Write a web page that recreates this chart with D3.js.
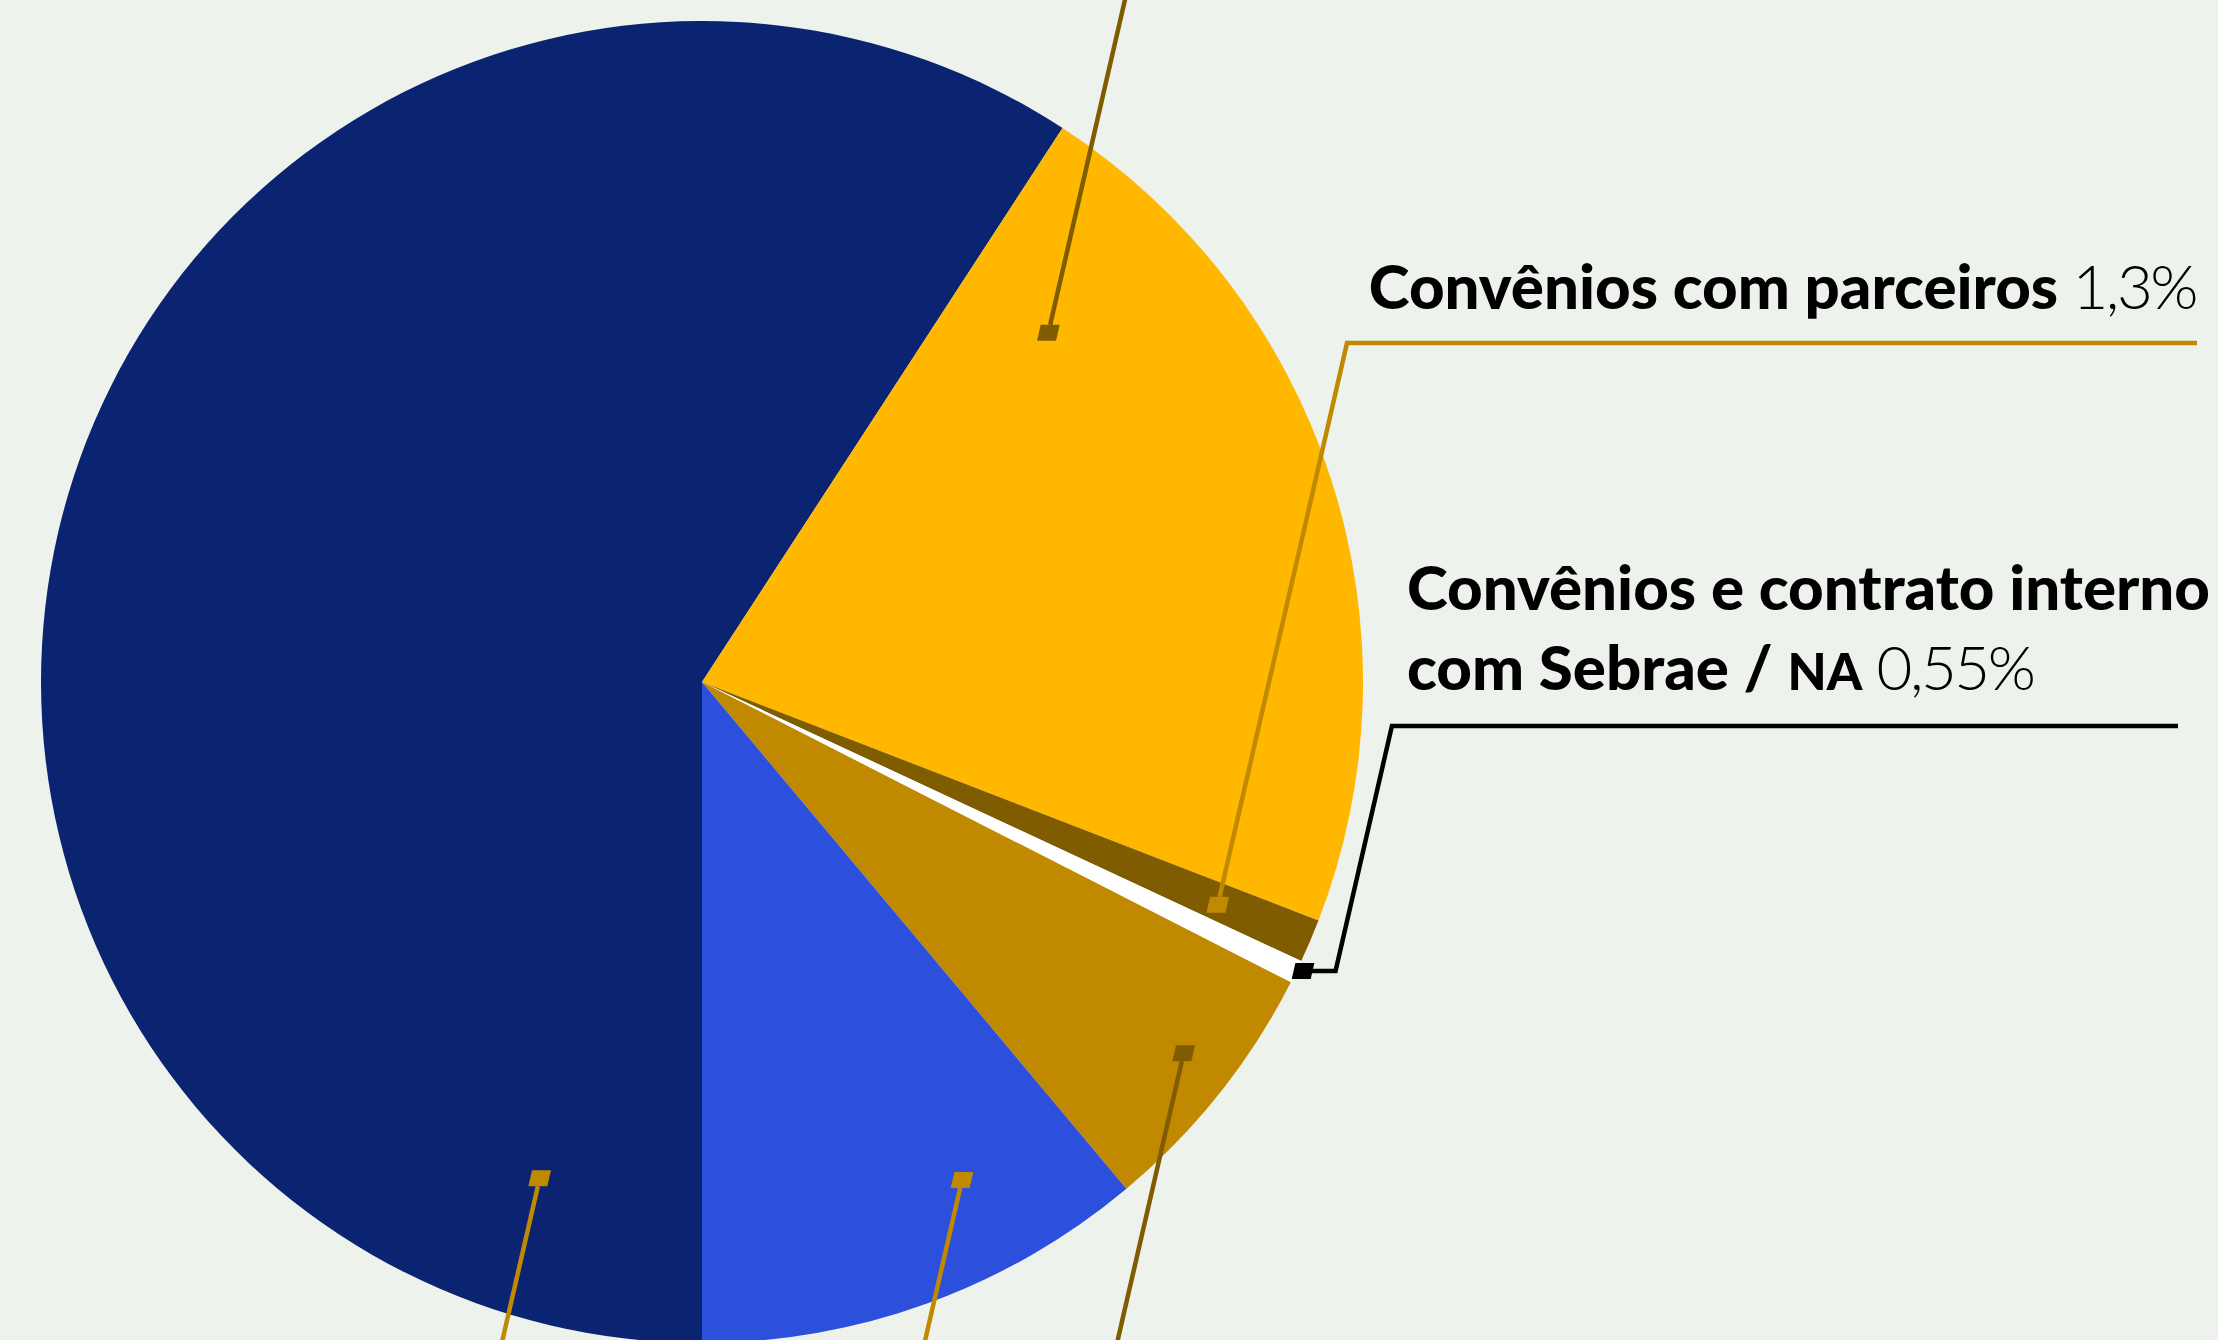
<!DOCTYPE html>
<html lang="pt-BR">
<head>
<meta charset="utf-8">
<script src="https://cdn.jsdelivr.net/npm/d3@7"></script>
<style>
  html, body { margin: 0; padding: 0; background: #eef2ec; }
  svg { display: block; }
  .label { font-family: Lato, "Open Sans", sans-serif; fill: #000; white-space: pre; }
  .label .strong { font-weight: 900; }
  .label .light { font-weight: 300; letter-spacing: -0.04em; }
</style>
</head>
<body>
<div id="chart"></div>
<script>
// fatias, na ordem em que aparecem (sentido horário a partir das 6 horas)
const segmentKeys = ['principal', 'segunda', 'parceiros', 'sebrae', 'terceira', 'quarta'];
const segmentValues = [59.2, 21.7, 1.06, 0.57, 6.4, 11.1];
const segmentColors = ['#0b2471', '#ffb700', '#7f5c00', '#ffffff', '#c08900', '#2c50dc'];

// rótulos visíveis
const parceirosLabel = ['Convênios com parceiros', '1,3%'];
const sebraeLabel = ['Convênios e contrato interno', 'com Sebrae / ', 'NA', '0,55%'];

const width = 2218;
const height = 1340;
const cx = 702;
const cy = 682;
const radius = 661;
const slope = 0.23;          // inclinação das linhas de chamada (dx / dy)
const markW = 19, markH = 16;

const gold = '#c08900';
const brown = '#7f5c00';

// chamadas: posição relativa dentro da fatia (t = fração do ângulo, rf = fração do raio)
const leaders = [
    { key: 'principal', t: 0.085, rf: 0.79, color: gold, dir: 'down' },
    { key: 'segunda', t: 0.15, rf: 0.744, color: brown, dir: 'up' },
    { key: 'parceiros', t: 0.58, rf: 0.85, color: gold, dir: 'label', lineY: 343, lineEnd: 2197 },
    { key: 'sebrae', t: 0.35, rf: 1.009, color: '#000', dir: 'elbow', lineY: 726, lineEnd: 2178 },
    { key: 'terceira', t: 0.46, rf: 0.92, color: brown, dir: 'down' },
    { key: 'quarta', t: 0.31, rf: 0.85, color: gold, dir: 'down' }
];

const color = d3.scaleOrdinal(segmentKeys, segmentColors);

const svg = d3.select('#chart')
    .append('svg')
    .attr('width', width)
    .attr('height', height);

svg.append('rect')
    .attr('width', width)
    .attr('height', height)
    .attr('fill', '#eef2ec');

const pie = d3.pie()
    .sort(null)
    .value(d => d.value)
    .startAngle(Math.PI)
    .endAngle(3 * Math.PI);

const arc = d3.arc().innerRadius(0).outerRadius(radius);

const arcs = pie(segmentKeys.map((k, i) => ({ key: k, value: segmentValues[i] })));
const arcByKey = new Map(arcs.map(a => [a.data.key, a]));

const g = svg.append('g').attr('transform', `translate(${cx},${cy})`);

g.selectAll('path.slice')
    .data(arcs)
    .join('path')
    .attr('class', 'slice')
    .attr('d', arc)
    .attr('fill', d => color(d.data.key));

// linhas de chamada
const lines = svg.append('g').attr('class', 'leaders');

leaders.forEach(l => {
    const a = arcByKey.get(l.key);
    const ang = a.startAngle + l.t * (a.endAngle - a.startAngle);
    const r = l.rf * radius;
    const mx = cx + r * Math.sin(ang);
    const my = cy - r * Math.cos(ang);
    const off = markH * slope / 2;

    lines.append('path')
        .attr('d', `M${mx - markW / 2 + off},${my - markH / 2}` +
            `L${mx + markW / 2 + off},${my - markH / 2}` +
            `L${mx + markW / 2 - off},${my + markH / 2}` +
            `L${mx - markW / 2 - off},${my + markH / 2}Z`)
        .attr('fill', l.color);

    let pts;
    if (l.dir === 'down') {
        const y0 = my + markH / 2;
        const y1 = height + 20;
        pts = [[mx - off, y0], [mx - off - (y1 - y0) * slope, y1]];
    } else if (l.dir === 'up') {
        const y0 = my - markH / 2;
        const y1 = -20;
        pts = [[mx + off, y0], [mx + off + (y0 - y1) * slope, y1]];
    } else if (l.dir === 'label') {
        const y0 = my - markH / 2;
        const x1 = mx + off + (y0 - l.lineY) * slope;
        pts = [[mx + off, y0], [x1, l.lineY], [l.lineEnd, l.lineY]];
    } else {
        const x0 = mx + markW / 2 - 1;
        const xk = x0 + 24;
        const x1 = xk + (my - l.lineY) * slope;
        pts = [[x0, my], [xk, my], [x1, l.lineY], [l.lineEnd, l.lineY]];
    }

    lines.append('path')
        .attr('d', d3.line()(pts))
        .attr('fill', 'none')
        .attr('stroke', l.color)
        .attr('stroke-width', 4.5)
        .attr('stroke-linejoin', 'miter');
});

// tamanho da fonte ajustado à largura dos rótulos no original
function measure(str) {
    const t = svg.append('text').attr('class', 'label')
        .append('tspan').attr('class', 'strong')
        .attr('font-size', 100).text(str);
    const w = t.node().getComputedTextLength();
    t.node().parentNode.remove();
    return w;
}
const fs = (100 * 694 / measure(parceirosLabel[0]) + 100 * 798 / measure(sebraeLabel[0])) / 2;

const t1 = svg.append('text')
    .attr('class', 'label')
    .attr('x', 2196)
    .attr('y', 309)
    .attr('text-anchor', 'end')
    .attr('font-size', fs);
t1.append('tspan').attr('class', 'strong').text(parceirosLabel[0]);
t1.append('tspan').attr('class', 'light').text(' ' + parceirosLabel[1]);

const t2 = svg.append('text')
    .attr('class', 'label')
    .attr('x', 1407)
    .attr('y', 610)
    .attr('font-size', fs);
t2.append('tspan').attr('class', 'strong').text(sebraeLabel[0]);

const t3 = svg.append('text')
    .attr('class', 'label')
    .attr('x', 1407)
    .attr('y', 690)
    .attr('font-size', fs);
t3.append('tspan').attr('class', 'strong').text(sebraeLabel[1]);
t3.append('tspan').attr('class', 'strong').attr('font-size', fs * 0.82).text(sebraeLabel[2]);
t3.append('tspan').attr('class', 'light').text(' ' + sebraeLabel[3]);
</script>
</body>
</html>
